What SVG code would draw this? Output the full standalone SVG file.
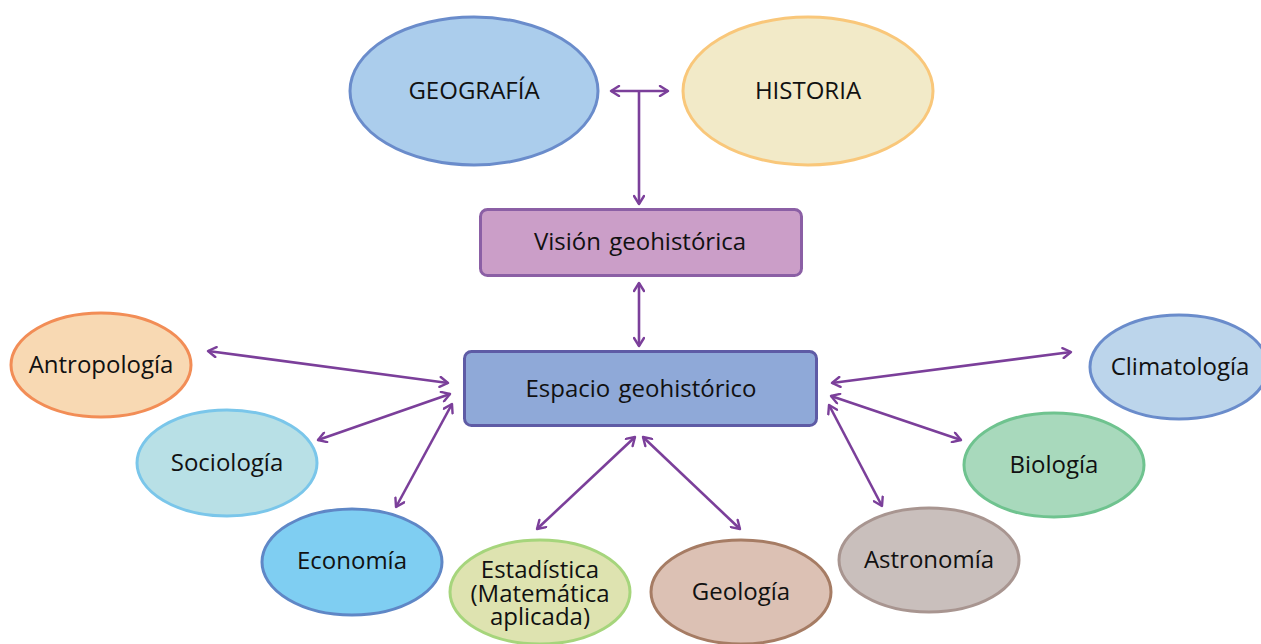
<svg xmlns="http://www.w3.org/2000/svg" width="1261" height="644" viewBox="0 0 1261 644">
<style>
text{font-family:"Open Sans","Noto Sans",sans-serif;font-size:24px;fill:#111;text-anchor:middle}
.e{stroke-width:3}
.c{stroke:#7B3F9A;stroke-width:2.6;fill:none;marker-start:url(#a);marker-end:url(#a)}
.c1{stroke:#7B3F9A;stroke-width:2.6;fill:none;marker-end:url(#a)}
</style>
<defs>
<marker id="a" viewBox="0 0 12 12" refX="10" refY="6" markerWidth="12" markerHeight="12" markerUnits="userSpaceOnUse" orient="auto-start-reverse">
<path d="M2,1 L10,6 L2,11" fill="none" stroke="#7B3F9A" stroke-width="2.4" stroke-linecap="round" stroke-linejoin="round"/>
</marker>
</defs>
<rect width="1261" height="644" fill="#fff"/>
<g id="connectors">
<line class="c" x1="611" y1="91" x2="668" y2="91"/>
<line class="c1" x1="639" y1="91" x2="639" y2="204"/>
<line class="c" x1="639" y1="283" x2="639" y2="346"/>
<line class="c" x1="208" y1="351" x2="448" y2="383"/>
<line class="c" x1="318" y1="440" x2="450" y2="394"/>
<line class="c" x1="396" y1="507" x2="452" y2="404"/>
<line class="c" x1="537" y1="529" x2="635" y2="437"/>
<line class="c" x1="643" y1="437" x2="740" y2="529"/>
<line class="c" x1="829" y1="405" x2="882" y2="506"/>
<line class="c" x1="831" y1="396" x2="961" y2="440"/>
<line class="c" x1="832" y1="383" x2="1071" y2="352"/>
</g>
<g id="geografia"><ellipse class="e" cx="474" cy="91" rx="124" ry="74" fill="#ABCDEC" stroke="#6A8CCB"/><text x="474" y="99">GEOGRAFÍA</text></g>
<g id="historia"><ellipse class="e" cx="808" cy="91" rx="125" ry="74" fill="#F2EAC8" stroke="#F9C77A"/><text x="808" y="99">HISTORIA</text></g>
<g id="vision"><rect x="480.5" y="209.5" width="321" height="66" rx="7" fill="#CB9EC8" stroke="#8B5FA5" stroke-width="3"/><text x="640" y="250" style="word-spacing:2px">Visión geohistórica</text></g>
<g id="espacio"><rect x="464.5" y="351.5" width="352" height="74" rx="7" fill="#8FA9D8" stroke="#5E5BA5" stroke-width="3"/><text x="641" y="397" style="word-spacing:2px">Espacio geohistórico</text></g>
<g id="antropologia"><ellipse class="e" cx="101" cy="365" rx="90" ry="52" fill="#F8D9B3" stroke="#F28D56"/><text x="101" y="373">Antropología</text></g>
<g id="sociologia"><ellipse class="e" cx="227" cy="463" rx="90" ry="53" fill="#B8E0E6" stroke="#7AC6EA"/><text x="227" y="471">Sociología</text></g>
<g id="economia"><ellipse class="e" cx="352" cy="562" rx="90" ry="53" fill="#7FCEF2" stroke="#5F87C6"/><text x="352" y="569">Economía</text></g>
<g id="estadistica"><ellipse class="e" cx="540" cy="592" rx="90" ry="52" fill="#DEE3B0" stroke="#A6D57C"/><text x="540" y="578">Estadística</text><text x="540" y="602">(Matemática</text><text x="540" y="625">aplicada)</text></g>
<g id="geologia"><ellipse class="e" cx="741" cy="592" rx="90" ry="52" fill="#DCC1B4" stroke="#A67C64"/><text x="741" y="600">Geología</text></g>
<g id="astronomia"><ellipse class="e" cx="929" cy="560" rx="90" ry="52" fill="#C9BFBC" stroke="#A89590"/><text x="929" y="568">Astronomía</text></g>
<g id="biologia"><ellipse class="e" cx="1054" cy="465" rx="90" ry="52" fill="#A8D9BC" stroke="#6FC38F"/><text x="1054" y="473">Biología</text></g>
<g id="climatologia"><ellipse class="e" cx="1179" cy="367" rx="89" ry="52" fill="#BCD5EB" stroke="#6A8CCB"/><text x="1180" y="375">Climatología</text></g>
</svg>
